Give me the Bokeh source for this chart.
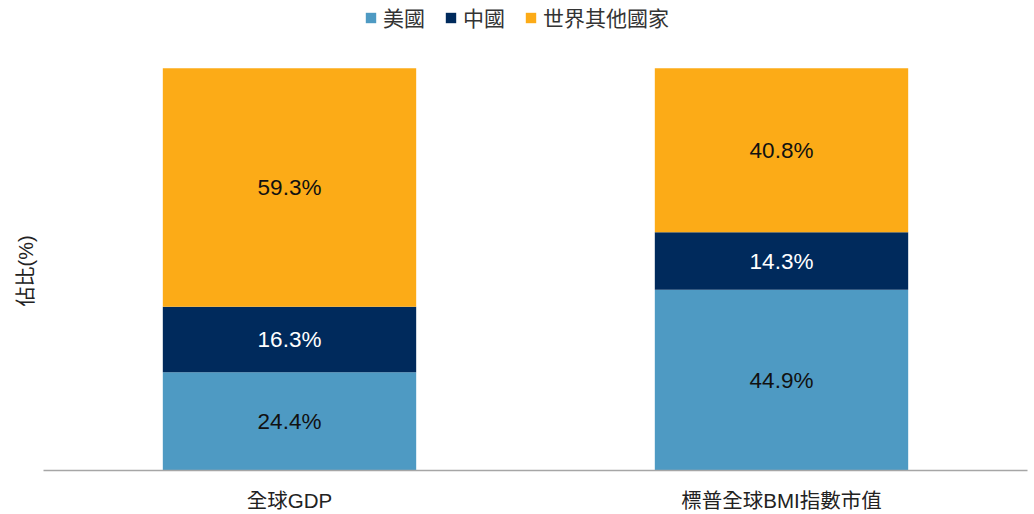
from bokeh.plotting import figure
from bokeh.models import ColumnDataSource, FactorRange, Legend, LegendItem, Title, Range1d
from bokeh.core.properties import value
from bokeh.embed import file_html
from bokeh.resources import INLINE

categories = ["全球GDP", "標普全球BMI指數市值"]
series_names = ["美國", "中國", "世界其他國家"]
us = [24.4, 44.9]
china = [16.3, 14.3]
rest = [59.3, 40.8]
colors = ["#4E9AC3", "#002A5C", "#FCAB17"]
label_colors = ["#111111", "#FFFFFF", "#111111"]

FONT = "'Liberation Sans', 'Noto Sans CJK TC', sans-serif"

data = {"cat": categories, "us": us, "china": china, "rest": rest}
source = ColumnDataSource(data)

# frame spans the whole height above the axis; 100% sits 68px below the top
FRAME_H = 472
Y_END = 100 * FRAME_H / (FRAME_H - 68)

p = figure(width=1034, height=514, x_range=FactorRange(*categories, range_padding=0),
           y_range=Range1d(0, Y_END), output_backend="svg", toolbar_location=None,
           min_border_left=43, min_border_right=7, min_border_top=0, min_border_bottom=42)
p.outline_line_color = None
p.background_fill_color = "white"
p.border_fill_color = "white"

renderers = p.vbar_stack(["us", "china", "rest"], x="cat", width=0.515, source=source,
                         color=colors, line_color=None)

# data labels
xs, ys, texts, tcols = [], [], [], []
series_vals = [us, china, rest]
for i, cat in enumerate(categories):
    base = 0.0
    for s, vals in enumerate(series_vals):
        v = vals[i]
        xs.append(cat)
        ys.append(base + v / 2)
        texts.append(f"{v:.1f}%")
        tcols.append(label_colors[s])
        base += v
lab_src = ColumnDataSource(dict(x=xs, y=ys, t=texts, c=tcols))
p.text(x="x", y="y", text="t", source=lab_src, text_color="c", text_align="center",
       text_baseline="middle", text_font=value(FONT), text_font_size="22.5px")

legend = Legend(items=[LegendItem(label=n, renderers=[r]) for n, r in zip(series_names, renderers)],
                orientation="horizontal", location=(321, 438), margin=0, padding=0,
                glyph_width=13, glyph_height=13, label_height=22, label_standoff=6, spacing=19,
                label_text_font=FONT, label_text_font_size="21px", label_text_color="#333333",
                background_fill_alpha=0, border_line_color=None)
p.add_layout(legend, "center")

p.xgrid.grid_line_color = None
p.ygrid.grid_line_color = None

p.xaxis.axis_line_color = "#A6A6A6"
p.xaxis.axis_line_width = 1.5
p.xaxis.major_tick_line_color = None
p.xaxis.minor_tick_line_color = None
p.xaxis.major_label_standoff = 12
p.xaxis.major_label_text_font = FONT
p.xaxis.major_label_text_font_size = "20.5px"
p.xaxis.major_label_text_color = "#222222"

p.yaxis.visible = False

ytitle = Title(text="佔比(%)", align="left", offset=164, standoff=14,
               text_font=FONT, text_font_size="20px", text_font_style="normal",
               text_color="#222222")
p.add_layout(ytitle, "left")

open("out.html", "w").write(file_html(p, INLINE))
